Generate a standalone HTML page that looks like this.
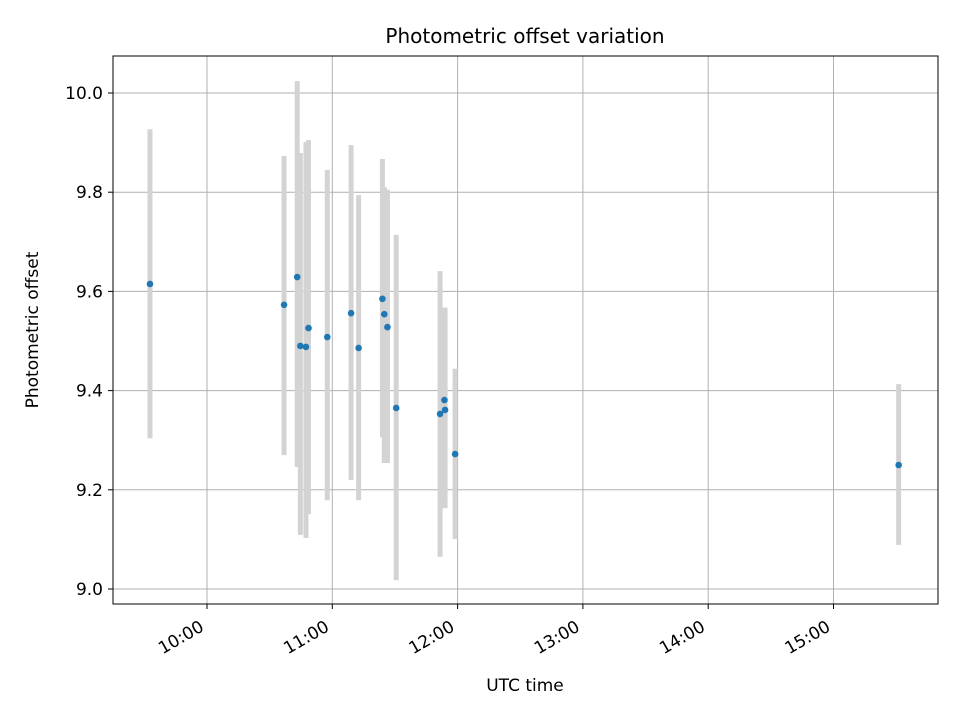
<!DOCTYPE html>
<html><head><meta charset="utf-8"><style>
body{margin:0;background:#fff}
svg text{font-family:"DejaVu Sans","Liberation Sans",sans-serif;fill:#000}
</style></head><body>
<svg id="chart" width="960" height="720" xmlns="http://www.w3.org/2000/svg">
<rect width="960" height="720" fill="#fff"/>
<g id="grid"></g>
<g id="bars"></g>
<g id="pts"></g>
<rect x="113" y="56" width="825" height="548" fill="none" stroke="#000" stroke-width="1"/>
<g id="ticks"></g>
<text x="525" y="43" style="font-size:20px" text-anchor="middle">Photometric offset variation</text>
<text x="525" y="691" style="font-size:17px" text-anchor="middle">UTC time</text>
<text transform="translate(38,330) rotate(-90)" style="font-size:17px" text-anchor="middle">Photometric offset</text>
</svg>
<script>
const times=[9.545,10.615,10.72,10.745,10.79,10.81,10.96,11.15,11.21,11.40,11.415,11.44,11.51,11.86,11.895,11.90,11.98,15.52];
const values=[9.615,9.573,9.629,9.490,9.488,9.526,9.508,9.556,9.486,9.585,9.554,9.528,9.365,9.353,9.381,9.361,9.272,9.250];
const lower=[9.304,9.270,9.246,9.109,9.103,9.151,9.179,9.220,9.179,9.306,9.254,9.254,9.018,9.065,9.163,9.163,9.101,9.089];
const upper=[9.927,9.873,10.024,9.879,9.901,9.905,9.845,9.895,9.794,9.867,9.810,9.805,9.714,9.641,9.567,9.567,9.444,9.413];
const xTicks=[10,11,12,13,14,15];
const xTickLabels=["10:00","11:00","12:00","13:00","14:00","15:00"];
const yTicks=[9.0,9.2,9.4,9.6,9.8,10.0];
const yTickLabels=["9.0","9.2","9.4","9.6","9.8","10.0"];
const X=t=>207+(t-10)*125.3;
const Y=v=>589-(v-9)*496;
const NS="http://www.w3.org/2000/svg";
function mk(tag,attrs,parent){const e=document.createElementNS(NS,tag);for(const k in attrs)e.setAttribute(k,attrs[k]);parent.appendChild(e);return e;}
const grid=document.getElementById('grid'),ticks=document.getElementById('ticks');
xTicks.forEach((t,i)=>{
 const g=mk('line',{x1:X(t),x2:X(t),y1:56,y2:604,stroke:'#b0b0b0','stroke-width':1},grid);
 
 
 const tk=mk('line',{x1:X(t),x2:X(t),y1:604,y2:609,stroke:'#000','stroke-width':1},ticks);
 
 
 const tx=mk('text',{x:0,y:0,style:'font-size:17px','text-anchor':'end',transform:`translate(${X(t)-2},${630}) rotate(-30)`},ticks);
 tx.textContent=xTickLabels[i];
 
 
});
yTicks.forEach((v,i)=>{
 const g=mk('line',{x1:113,x2:938,y1:Y(v),y2:Y(v),stroke:'#b0b0b0','stroke-width':1},grid);
 
 
 const tk=mk('line',{x1:108,x2:113,y1:Y(v),y2:Y(v),stroke:'#000','stroke-width':1},ticks);
 
 
 const tx=mk('text',{x:103,y:Y(v)+6,style:'font-size:17px','text-anchor':'end'},ticks);
 tx.textContent=yTickLabels[i];
 
 
});
const bars=document.getElementById('bars'),pts=document.getElementById('pts');
times.forEach((t,i)=>{
 const b=mk('line',{x1:X(t),x2:X(t),y1:Y(upper[i]),y2:Y(lower[i]),stroke:'#d3d3d3','stroke-width':5},bars);
 
 
 const p=mk('circle',{cx:X(t),cy:Y(values[i]),r:3.3,fill:'#1f77b4'},pts);
 
 
});
</script>
</body></html>
